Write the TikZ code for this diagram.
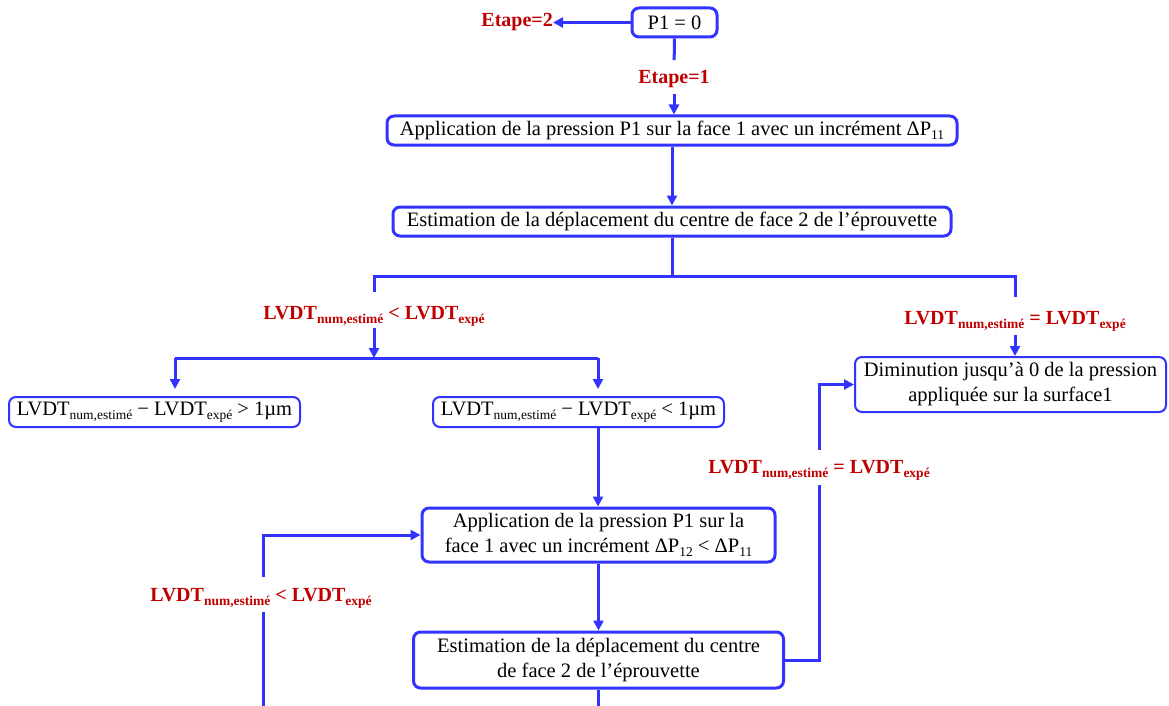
\documentclass[tikz,border=0pt]{standalone}
\usepackage{fontspec}
\setmainfont{Liberation Serif}
\usetikzlibrary{arrows.meta}
\definecolor{fblue}{RGB}{51,51,255}
\definecolor{fred}{RGB}{192,0,0}
\newcommand\bsz{\fontsize{20.5}{25}\selectfont}
\newcommand\lsz{\fontsize{20}{24}\selectfont\bfseries}
\newcommand\sbx[1]{\raisebox{-4pt}{\fontsize{13.5}{14}\selectfont #1}}
\newcommand\sbl[1]{\raisebox{-4pt}{\fontsize{13.5}{14}\selectfont\bfseries #1}}
\begin{document}
\begin{tikzpicture}[x=1pt,y=-1pt,
 box/.style={draw=fblue, line width=3pt, rounded corners=7pt, fill=white, inner sep=0pt, align=center, font=\bsz},
 tbox/.style={box, line width=2pt},
 lab/.style={text=fred, font=\lsz, inner sep=0pt},
 conn/.style={draw=fblue, line width=3pt},
 arr/.style={conn, -{Triangle[length=10pt,width=10pt]}},
]
\useasboundingbox (0,0) rectangle (1169,706);
% boxes
\node[box, minimum width=85, minimum height=29] (p1) at (674.5,22.5) {P1 = 0};
\node[box, minimum width=570, minimum height=29] (b1) at (672,130.5) {Application de la pression P1 sur la face 1 avec un incrément ΔP\sbx{11}};
\node[box, minimum width=558, minimum height=29] (b2) at (672,221.5) {Estimation de la déplacement du centre de face 2 de l’éprouvette};
\node[tbox, minimum width=291, minimum height=30] (bL) at (154.5,412) {LVDT\sbx{num,estimé} − LVDT\sbx{expé} > 1µm};
\node[tbox, minimum width=291, minimum height=30] (bM) at (578.5,412) {LVDT\sbx{num,estimé} − LVDT\sbx{expé} < 1µm};
\node[tbox, minimum width=311, minimum height=55] (bR) at (1010.5,384.5) {Diminution jusqu’à 0 de la pression\\appliquée sur la surface1};
\node[box, minimum width=353, minimum height=54] (bN) at (598.5,535) {Application de la pression P1 sur la\\face 1 avec un incrément ΔP\sbx{12} < ΔP\sbx{11}};
\node[box, minimum width=370, minimum height=56] (bO) at (598.5,660) {Estimation de la déplacement du centre\\de face 2 de l’éprouvette};
% labels
\node[lab, anchor=east] (e2) at (553,22.5) {Etape=2};
\node[lab] (e1) at (674,79) {Etape=1};
\node[lab] (lt1) at (374,316) {LVDT\sbl{num,estimé} < LVDT\sbl{expé}};
\node[lab] (eq1) at (1015,321) {LVDT\sbl{num,estimé} = LVDT\sbl{expé}};
\node[lab] (eq2) at (819,470) {LVDT\sbl{num,estimé} = LVDT\sbl{expé}};
\node[lab] (lt2) at (261,598) {LVDT\sbl{num,estimé} < LVDT\sbl{expé}};
% coordinates
\coordinate (j0) at (672,276);
\coordinate (k0) at (374,358);
\coordinate (kl) at (175,358);
\coordinate (kr) at (598,358);
\coordinate (lb) at (263,712);
\coordinate (ob) at (598.5,712);
% connectors
\draw[arr] (p1.west) -- (e2.east);
\draw[conn, shorten >=10pt] (p1.south) -- (e1.north);
\draw[arr, shorten <=6pt] (e1.south) -- (b1.north -| e1.south);
\draw[arr] (b1.south) -- (b2.north);
\draw[conn] (b2.south) -- (j0);
\draw[conn, shorten >=14pt] (j0) -| (lt1.north);
\draw[conn, shorten >=14pt] (j0) -| (eq1.north);
\draw[arr, shorten <=2pt] (lt1.south) -- (k0);
\draw[conn] (kl) -- (kr);
\draw[arr, shorten >=7pt] (kl) -- (kl |- bL.north);
\draw[arr, shorten >=7pt] (kr) -- (kr |- bM.north);
\draw[arr, shorten <=4pt] (eq1.south) -- (eq1.south |- bR.north);
\draw[arr] (kr |- bM.south) -- (kr |- bN.north);
\draw[arr] (bN.south) -- (bO.north);
\draw[conn] (bO.south) -- (ob);
\draw[conn, shorten >=5pt] (bO.east) -| (eq2.south);
\draw[arr, shorten <=10pt] (eq2.north) |- (bR.west);
\draw[conn, shorten >=4pt] (lb) -- (lb |- lt2.south);
\draw[arr, shorten <=11pt] (lb |- lt2.north) |- (bN.west);
\end{tikzpicture}
\end{document}
